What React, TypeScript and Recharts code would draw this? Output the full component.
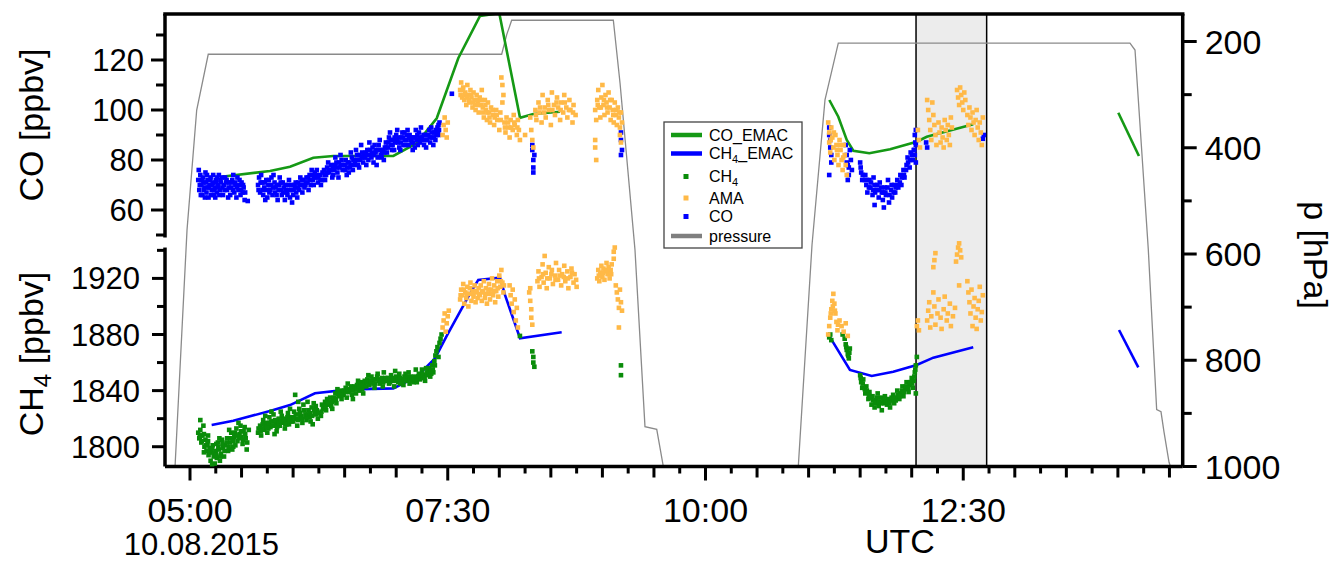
import React from 'react';
import { ComposedChart, Line, Scatter, XAxis, YAxis, ReferenceLine, ReferenceArea } from 'recharts';

const W = 1335;
const H = 563;
const FONT = "'Liberation Sans', Arial, Helvetica, sans-serif";

const X_DOMAIN: [number, number] = [4.7575, 14.6285];
const CO_DOMAIN: [number, number] = [-42.6, 138.4];
const CH4_DOMAIN: [number, number] = [1785.9, 2108.5];
const P_DOMAIN: [number, number] = [148.2, 1000];

const xTicks = Array.from({ length: 39 }, (_, i) => 5 + i * 0.25);
const coTicks = [50, 60, 70, 80, 90, 100, 110, 120, 130];
const coLabels = [60, 80, 100, 120];
const ch4Ticks = [1800, 1820, 1840, 1860, 1880, 1900, 1920, 1940];
const ch4Labels = [1800, 1840, 1880, 1920];
const pTicks = [200, 300, 400, 500, 600, 700, 800, 900, 1000];
const pLabels = [200, 400, 600, 800, 1000];

const shadeStart = 12.042;
const shadeEnd = 12.727;

const pressure: [number, number][] = [
  [4.855, 1000], [4.971, 555], [5.065, 329], [5.177, 224], [8.023, 224], [8.072, 187], [8.12, 160],
  [9.106, 160], [9.171, 278], [9.316, 592], [9.413, 925], [9.527, 930], [9.591, 1000], [10.9, 1000],
  [11.033, 583], [11.159, 310], [11.288, 203], [14.117, 203], [14.166, 216], [14.295, 592],
  [14.376, 893], [14.418, 897], [14.447, 935], [14.496, 992], [14.51, 1000],
];

const coEmac1: [number, number][] = [
  [5.307, 73.3], [5.776, 75.6], [5.97, 77.3], [6.196, 80.9], [6.39, 81.6], [6.972, 81.6], [7.199, 86.7],
  [7.393, 96.7], [7.602, 120.7], [7.813, 137.6], [8.0, 138.7], [8.201, 96.9], [8.33, 98.4], [8.589, 99.3],
];
const coEmac2: [number, number][] = [
  [11.201, 104], [11.288, 97.3], [11.37, 88], [11.434, 83.7], [11.589, 82.7], [11.79, 84.3], [12.048, 87.3],
  [12.146, 89.3], [12.597, 94.3],
];
const coEmac3: [number, number][] = [[14.004, 98.9], [14.204, 81.6]];

const ch4Emac1: [number, number][] = [
  [5.21, 1815.5], [5.42, 1818.5], [5.776, 1825.5], [5.97, 1829.7], [6.212, 1838.1], [6.552, 1840.9],
  [6.972, 1841.6], [7.199, 1849.9], [7.376, 1863], [7.49, 1879], [7.699, 1907], [7.796, 1918.9],
  [8.007, 1920.5], [8.055, 1908.2], [8.201, 1877.3], [8.605, 1881.6],
];
const ch4Emac2: [number, number][] = [
  [11.201, 1878.9], [11.401, 1854.7], [11.612, 1850.4], [11.821, 1853.5], [12.048, 1858.3], [12.21, 1863.5],
  [12.597, 1870.9],
];
const ch4Emac3: [number, number][] = [[14.011, 1883.2], [14.198, 1856.6]];

const coObs: [number, number][] = [
  [5.08, 72], [5.09, 68], [5.1, 74], [5.11, 70], [5.12, 66], [5.13, 71], [5.14, 69], [5.15, 75], [5.16, 67], [5.17, 72],
  [5.18, 65], [5.19, 70], [5.2, 73], [5.21, 68], [5.22, 71], [5.23, 66], [5.24, 69], [5.25, 72], [5.26, 67], [5.27, 70],
  [5.28, 74], [5.29, 68], [5.3, 71], [5.32, 66], [5.33, 70], [5.34, 73], [5.36, 68], [5.37, 65], [5.38, 71], [5.4, 69],
  [5.41, 72], [5.43, 67], [5.44, 70], [5.46, 73], [5.47, 68], [5.49, 66], [5.5, 71], [5.52, 69], [5.53, 64], [5.56, 63.6],
  [5.66, 70], [5.67, 73], [5.68, 67], [5.7, 71], [5.71, 66], [5.72, 69], [5.74, 72], [5.75, 65], [5.76, 70], [5.78, 68],
  [5.79, 73], [5.8, 66], [5.82, 71], [5.83, 69], [5.85, 64], [5.86, 68], [5.88, 71], [5.89, 66], [5.91, 69], [5.92, 64],
  [5.94, 67], [5.95, 70], [5.97, 65], [5.98, 68], [6.0, 66], [6.01, 70], [6.03, 67], [6.05, 71], [6.06, 68], [6.08, 70],
  [6.1, 72], [6.11, 69], [6.13, 73], [6.14, 71], [6.16, 74], [6.17, 70], [6.19, 72], [6.21, 75], [6.22, 73], [6.24, 71],
  [6.26, 74], [6.28, 72], [6.3, 76], [6.32, 74], [6.33, 77], [6.35, 75], [6.37, 78], [6.38, 73], [6.4, 76], [6.42, 79],
  [6.43, 75], [6.45, 77], [6.47, 80], [6.48, 76], [6.5, 78], [6.52, 74], [6.53, 79], [6.55, 77], [6.57, 81], [6.58, 76],
  [6.6, 79], [6.62, 82], [6.63, 78], [6.65, 80], [6.67, 83], [6.68, 79], [6.7, 81], [6.72, 84], [6.73, 80], [6.75, 82],
  [6.77, 85], [6.78, 79], [6.8, 83], [6.82, 81], [6.83, 86], [6.85, 82], [6.87, 84], [6.88, 80], [6.9, 87], [6.92, 85],
  [6.93, 89], [6.95, 86], [6.97, 88], [6.98, 84], [7.0, 90], [7.02, 87], [7.03, 85], [7.05, 89], [7.07, 86], [7.08, 91],
  [7.1, 88], [7.12, 86], [7.13, 90], [7.15, 87], [7.17, 89], [7.18, 85], [7.2, 88], [7.22, 91], [7.23, 87], [7.25, 89],
  [7.27, 86], [7.28, 90], [7.3, 88], [7.32, 92], [7.33, 87], [7.35, 89], [7.37, 91], [7.38, 88], [7.4, 93], [7.41, 90],
  [7.42, 95],
  [5.085, 76], [5.105, 66], [5.125, 73], [5.145, 65], [5.165, 74], [5.185, 69], [5.205, 66], [5.225, 74], [5.245, 65],
  [5.265, 73], [5.285, 66], [5.31, 73], [5.35, 71], [5.39, 66], [5.42, 74], [5.45, 65], [5.48, 72], [5.51, 67], [5.69, 74],
  [5.73, 64], [5.77, 67], [5.81, 74], [5.84, 66], [5.87, 73], [5.9, 71], [5.93, 68], [5.96, 72], [5.99, 63], [6.02, 69],
  [6.04, 65], [6.07, 73], [6.09, 67], [6.12, 70], [6.15, 68], [6.18, 76], [6.2, 70], [6.23, 76], [6.27, 70], [6.31, 72],
  [6.34, 79], [6.39, 74], [6.41, 81], [6.44, 73], [6.46, 82], [6.51, 80], [6.54, 75], [6.56, 83], [6.59, 78], [6.61, 84],
  [6.64, 77], [6.66, 86], [6.69, 82], [6.71, 78], [6.74, 87], [6.76, 81], [6.79, 86], [6.81, 78], [6.84, 88], [6.86, 81],
  [6.89, 85], [6.91, 83], [6.94, 91], [6.96, 84], [6.99, 87], [7.01, 92], [7.04, 84], [7.06, 91], [7.09, 86], [7.11, 92],
  [7.14, 88], [7.16, 84], [7.19, 92], [7.21, 86], [7.24, 93], [7.26, 88], [7.29, 85], [7.31, 90], [7.34, 93], [7.36, 86],
  [7.39, 90], [7.41, 94],
  [5.095, 70], [5.115, 72], [5.135, 68], [5.155, 71], [5.175, 69], [5.195, 72], [5.215, 70], [5.235, 68], [5.255, 71],
  [5.275, 69], [5.295, 72], [5.315, 69], [5.335, 68], [5.355, 72], [5.375, 69], [5.395, 71], [5.415, 68], [5.435, 71],
  [5.455, 69], [5.475, 70], [5.495, 68], [5.515, 70], [5.535, 67],
  [5.665, 68], [5.685, 71], [5.705, 68], [5.725, 71], [5.745, 68], [5.765, 72], [5.785, 70], [5.805, 69], [5.825, 67],
  [5.845, 70], [5.865, 70], [5.885, 68], [5.905, 67], [5.925, 70], [5.945, 66], [5.965, 68], [5.985, 70], [6.005, 68],
  [6.025, 71], [6.045, 69], [6.065, 70], [6.085, 72], [6.105, 70], [6.125, 71], [6.145, 73], [6.165, 72], [6.185, 74],
  [6.205, 73], [6.225, 74], [6.245, 73], [6.265, 72], [6.285, 75], [6.305, 74], [6.325, 75], [6.345, 76], [6.365, 76],
  [6.385, 77], [6.405, 78], [6.425, 77], [6.445, 79], [6.465, 78], [6.485, 78], [6.505, 76], [6.525, 77], [6.545, 79],
  [6.565, 78], [6.585, 80], [6.605, 80], [6.625, 80], [6.645, 82], [6.665, 81], [6.685, 81], [6.705, 83], [6.725, 82],
  [6.745, 84], [6.765, 83], [6.785, 82], [6.805, 84], [6.825, 84], [6.845, 84], [6.865, 83], [6.885, 83], [6.905, 85],
  [6.925, 87], [6.945, 88], [6.965, 86], [6.985, 89], [7.005, 88], [7.025, 89], [7.045, 87], [7.065, 89], [7.085, 88],
  [7.105, 90], [7.125, 89], [7.145, 89], [7.165, 87], [7.185, 89], [7.205, 90], [7.225, 89], [7.245, 88], [7.265, 90],
  [7.285, 88], [7.305, 90], [7.325, 89], [7.345, 91], [7.365, 89], [7.385, 92], [7.405, 91], [7.415, 92],
  [7.54, 106.5],
  [8.32, 84], [8.33, 80], [8.33, 77], [8.34, 82], [8.33, 75], [8.32, 86],
  [9.18, 91], [9.18, 88], [9.19, 84], [9.18, 82],
  [11.2, 90], [11.21, 85], [11.22, 79], [11.2, 74], [11.2, 93], [11.36, 86], [11.37, 82], [11.38, 78], [11.39, 74],
  [11.4, 84], [11.41, 80], [11.42, 76], [11.38, 72], [11.21, 88], [11.22, 82], [11.37, 79], [11.39, 77],
  [11.5, 79], [11.51, 75], [11.52, 72], [11.55, 74], [11.56, 70], [11.57, 67], [11.59, 72], [11.6, 69], [11.62, 66],
  [11.63, 73], [11.64, 70], [11.64, 62], [11.66, 68], [11.68, 65], [11.69, 71], [11.71, 67], [11.72, 64], [11.73, 61],
  [11.74, 69], [11.75, 66], [11.77, 72], [11.78, 63], [11.8, 68], [11.81, 65], [11.83, 70], [11.84, 67], [11.86, 72],
  [11.87, 69], [11.89, 74], [11.9, 70], [11.92, 76], [11.93, 73], [11.95, 78], [11.96, 81], [11.98, 77], [11.99, 83],
  [12.01, 80], [12.02, 84], [12.03, 82], [12.04, 79], [12.04, 86], [12.03, 90], [12.04, 92],
  [11.505, 77], [11.525, 74], [11.545, 72], [11.565, 72], [11.585, 69], [11.605, 71], [11.625, 68], [11.645, 67],
  [11.665, 70], [11.685, 68], [11.705, 69], [11.725, 67], [11.745, 67], [11.765, 69], [11.785, 66], [11.805, 70],
  [11.825, 67], [11.845, 69], [11.865, 70], [11.885, 71], [11.905, 73], [11.925, 74], [11.945, 76], [11.965, 79],
  [11.985, 80], [12.005, 82], [12.025, 84], [12.035, 87],
  [12.14, 87], [12.15, 85], [12.69, 88.5], [12.7, 90],
];

const ch4Obs: [number, number][] = [
  [5.08, 1810], [5.09, 1806], [5.1, 1812], [5.1, 1819], [5.11, 1803], [5.12, 1808], [5.13, 1815], [5.14, 1800],
  [5.15, 1805], [5.16, 1797], [5.17, 1802], [5.18, 1794], [5.19, 1799], [5.2, 1790], [5.21, 1796], [5.22, 1801],
  [5.23, 1793], [5.24, 1788], [5.25, 1797], [5.26, 1792], [5.27, 1803], [5.28, 1798], [5.29, 1790], [5.3, 1795],
  [5.31, 1805], [5.32, 1799], [5.33, 1793], [5.34, 1801], [5.36, 1806], [5.37, 1797], [5.39, 1803], [5.4, 1810],
  [5.42, 1800], [5.43, 1807], [5.45, 1813], [5.46, 1804], [5.48, 1809], [5.49, 1815], [5.51, 1802], [5.52, 1811],
  [5.54, 1806], [5.55, 1798], [5.57, 1812], [5.66, 1810], [5.68, 1815], [5.69, 1808], [5.71, 1819], [5.72, 1812],
  [5.74, 1817], [5.75, 1810], [5.77, 1821], [5.78, 1814], [5.8, 1818], [5.81, 1823], [5.83, 1816], [5.84, 1811],
  [5.86, 1820], [5.87, 1815], [5.89, 1822], [5.9, 1817], [5.92, 1813], [5.93, 1819], [5.95, 1824], [5.96, 1816],
  [5.98, 1821], [6.0, 1818], [6.01, 1825], [6.02, 1837], [6.03, 1820], [6.04, 1815], [6.06, 1827], [6.07, 1822],
  [6.09, 1817], [6.1, 1830], [6.12, 1823], [6.13, 1819], [6.15, 1826], [6.16, 1821], [6.18, 1828], [6.19, 1816],
  [6.21, 1824], [6.22, 1829], [6.24, 1820], [6.27, 1822], [6.29, 1827], [6.31, 1832], [6.32, 1826], [6.34, 1830],
  [6.36, 1835], [6.37, 1829], [6.39, 1833], [6.41, 1838], [6.42, 1831], [6.44, 1836], [6.46, 1840], [6.47, 1834],
  [6.49, 1837], [6.51, 1842], [6.52, 1835], [6.54, 1839], [6.56, 1843], [6.57, 1837], [6.59, 1841], [6.61, 1838],
  [6.62, 1844], [6.64, 1840], [6.66, 1846], [6.67, 1841], [6.69, 1845], [6.71, 1843], [6.72, 1848], [6.74, 1844],
  [6.76, 1850], [6.77, 1846], [6.79, 1842], [6.81, 1848], [6.82, 1852], [6.84, 1845], [6.86, 1849], [6.87, 1843],
  [6.89, 1847], [6.92, 1849], [6.93, 1845], [6.95, 1851], [6.97, 1847], [6.98, 1843], [7.0, 1850], [7.02, 1846],
  [7.03, 1852], [7.05, 1848], [7.07, 1844], [7.08, 1850], [7.1, 1847], [7.12, 1853], [7.13, 1845], [7.15, 1849],
  [7.17, 1846], [7.18, 1850], [7.2, 1846], [7.22, 1852], [7.23, 1848], [7.25, 1855], [7.27, 1851], [7.28, 1847],
  [7.3, 1853], [7.32, 1856], [7.33, 1850], [7.35, 1858], [7.36, 1853], [7.37, 1861], [7.38, 1865], [7.39, 1868],
  [7.4, 1871], [7.41, 1864], [7.42, 1874], [7.43, 1877], [7.44, 1880],
  [5.105, 1808], [5.135, 1796], [5.175, 1808], [5.215, 1787], [5.255, 1802], [5.285, 1806], [5.38, 1812], [5.41, 1798],
  [5.44, 1801], [5.47, 1817], [5.5, 1807], [5.53, 1814], [5.7, 1813], [5.73, 1822], [5.76, 1813], [5.79, 1825],
  [5.82, 1809], [5.85, 1818], [5.88, 1825], [5.91, 1820], [5.94, 1816], [5.97, 1827], [6.05, 1832], [6.08, 1822],
  [6.11, 1826], [6.14, 1832], [6.17, 1818], [6.2, 1831], [6.23, 1826], [6.28, 1830], [6.33, 1834], [6.38, 1827],
  [6.43, 1841], [6.48, 1839], [6.53, 1845], [6.58, 1834], [6.63, 1847], [6.68, 1838], [6.73, 1851], [6.78, 1845],
  [6.83, 1848], [6.88, 1853], [6.94, 1846], [6.99, 1854], [7.04, 1845], [7.09, 1852], [7.14, 1850], [7.19, 1855],
  [7.24, 1849], [7.29, 1856], [7.34, 1852],
  [5.095, 1807], [5.115, 1804], [5.135, 1809], [5.155, 1801], [5.175, 1804], [5.195, 1796], [5.215, 1799], [5.235, 1795],
  [5.255, 1794], [5.275, 1800], [5.295, 1793], [5.315, 1802], [5.335, 1797], [5.355, 1803], [5.375, 1800], [5.395, 1806],
  [5.415, 1804], [5.435, 1810], [5.455, 1808], [5.475, 1806], [5.495, 1811], [5.515, 1805], [5.535, 1809], [5.555, 1803],
  [5.665, 1813], [5.685, 1811], [5.705, 1816], [5.725, 1815], [5.745, 1814], [5.765, 1817], [5.785, 1818], [5.805, 1815],
  [5.825, 1819], [5.845, 1814], [5.865, 1817], [5.885, 1818], [5.905, 1819], [5.925, 1816], [5.945, 1821], [5.965, 1819],
  [5.985, 1818], [6.005, 1821], [6.025, 1823], [6.045, 1819], [6.065, 1824], [6.085, 1820], [6.105, 1826], [6.125, 1821],
  [6.145, 1823], [6.165, 1824], [6.185, 1822], [6.205, 1826], [6.225, 1823], [6.245, 1824], [6.275, 1825], [6.295, 1829],
  [6.315, 1829], [6.335, 1832], [6.355, 1831], [6.375, 1832], [6.395, 1835], [6.415, 1834], [6.435, 1838], [6.455, 1837],
  [6.475, 1837], [6.495, 1840], [6.515, 1839], [6.535, 1840], [6.555, 1841], [6.575, 1840], [6.595, 1843], [6.615, 1841],
  [6.635, 1843], [6.655, 1843], [6.675, 1844], [6.695, 1847], [6.715, 1846], [6.735, 1846], [6.755, 1847], [6.775, 1848],
  [6.795, 1845], [6.815, 1850], [6.835, 1847], [6.855, 1847], [6.875, 1846], [6.895, 1849], [6.915, 1847], [6.935, 1848],
  [6.955, 1848], [6.975, 1849], [6.995, 1847], [7.015, 1848], [7.035, 1849], [7.055, 1846], [7.075, 1848], [7.095, 1849],
  [7.115, 1850], [7.135, 1848], [7.155, 1847], [7.175, 1848], [7.195, 1848], [7.215, 1850], [7.235, 1851], [7.255, 1852],
  [7.275, 1849], [7.295, 1851], [7.315, 1853], [7.335, 1854], [7.355, 1855], [7.375, 1858],
  [8.2, 1879], [8.32, 1868], [8.33, 1864], [8.33, 1860], [8.34, 1857], [9.18, 1858], [9.18, 1851],
  [11.2, 1878], [11.21, 1880], [11.22, 1876], [11.33, 1880], [11.35, 1877], [11.36, 1873], [11.37, 1869], [11.38, 1866],
  [11.39, 1863], [11.4, 1870], [11.365, 1871], [11.385, 1865], [11.395, 1867],
  [11.5, 1851], [11.51, 1846], [11.52, 1842], [11.53, 1848], [11.55, 1838], [11.56, 1843], [11.58, 1834], [11.59, 1839],
  [11.61, 1830], [11.62, 1836], [11.64, 1828], [11.65, 1833], [11.67, 1838], [11.68, 1829], [11.7, 1835], [11.71, 1826],
  [11.73, 1831], [11.74, 1836], [11.76, 1830], [11.77, 1834], [11.79, 1828], [11.8, 1833], [11.82, 1837], [11.83, 1831],
  [11.85, 1835], [11.86, 1840], [11.88, 1834], [11.89, 1838], [11.91, 1843], [11.92, 1836], [11.94, 1841], [11.95, 1846],
  [11.97, 1839], [11.98, 1844], [12.0, 1849], [12.01, 1842], [12.02, 1847], [12.03, 1853], [12.04, 1858], [12.05, 1864],
  [12.04, 1838],
  [11.505, 1849], [11.525, 1845], [11.545, 1841], [11.565, 1840], [11.585, 1837], [11.605, 1835], [11.625, 1833],
  [11.645, 1831], [11.665, 1835], [11.685, 1832], [11.705, 1831], [11.725, 1833], [11.745, 1833], [11.765, 1832],
  [11.785, 1831], [11.805, 1835], [11.825, 1834], [11.845, 1833], [11.865, 1837], [11.885, 1836], [11.905, 1840],
  [11.925, 1839], [11.945, 1843], [11.965, 1842], [11.985, 1846], [12.005, 1845], [12.025, 1850], [12.035, 1855],
];

const amaCO: [number, number][] = [
  [7.45, 90], [7.46, 94], [7.47, 97], [7.48, 92], [7.49, 89], [7.5, 95],
  [7.62, 108], [7.63, 111], [7.64, 105], [7.65, 109], [7.66, 104], [7.67, 107], [7.68, 102], [7.69, 110], [7.7, 106],
  [7.71, 103], [7.72, 108], [7.73, 105], [7.74, 101], [7.75, 107], [7.76, 104], [7.77, 100], [7.78, 106], [7.79, 103],
  [7.8, 99], [7.81, 105], [7.82, 102], [7.83, 108], [7.84, 101], [7.85, 97], [7.86, 104], [7.87, 100], [7.88, 96],
  [7.89, 103], [7.9, 99], [7.91, 95], [7.92, 101], [8.02, 113], [8.03, 110], [8.04, 106], [8.03, 103],
  [7.94, 98], [7.95, 94], [7.97, 100], [7.98, 96], [8.0, 92], [8.01, 99], [8.05, 95], [8.06, 91], [8.07, 97], [8.09, 93],
  [8.1, 89], [8.11, 96], [8.13, 92], [8.14, 98], [8.15, 94], [8.17, 90], [8.18, 96], [8.19, 92], [8.2, 88], [8.25, 90],
  [8.3, 97], [8.31, 92], [8.32, 88], [8.33, 85], [8.35, 100], [8.36, 96], [8.38, 103], [8.39, 99], [8.41, 95], [8.42, 106],
  [8.44, 101], [8.45, 97], [8.47, 104], [8.48, 100], [8.5, 94], [8.51, 107], [8.53, 102], [8.54, 98], [8.56, 105],
  [8.57, 101], [8.59, 96], [8.6, 103], [8.62, 99], [8.63, 106], [8.65, 101], [8.66, 97], [8.68, 104], [8.69, 100],
  [8.71, 95], [8.72, 102], [8.74, 98],
  [8.93, 100], [8.94, 96], [8.95, 104], [8.96, 108], [8.97, 101], [8.98, 97], [8.99, 105], [9.0, 110], [9.01, 102],
  [9.02, 98], [9.03, 106], [9.04, 103], [9.05, 99], [9.06, 107], [9.07, 101], [9.08, 96], [9.09, 104], [9.1, 100],
  [9.11, 95], [9.12, 103], [9.13, 98], [9.14, 94], [9.15, 101], [9.16, 97], [9.17, 93], [9.18, 99], [9.19, 95],
  [8.93, 88], [8.93, 85], [8.94, 80], [9.17, 90], [9.18, 87],
  [7.625, 106], [7.645, 108], [7.665, 106], [7.685, 105], [7.705, 104], [7.725, 106], [7.745, 103], [7.765, 102],
  [7.785, 104], [7.805, 102], [7.825, 104], [7.845, 99], [7.865, 102], [7.885, 99], [7.905, 97], [7.935, 100],
  [7.955, 97], [7.975, 98], [8.015, 96], [8.055, 93], [8.085, 95], [8.115, 93], [8.145, 95], [8.175, 93], [8.355, 98],
  [8.395, 101], [8.435, 99], [8.475, 102], [8.515, 100], [8.555, 103], [8.595, 100], [8.635, 103], [8.675, 100],
  [8.715, 99], [8.955, 102], [8.985, 101], [9.015, 104], [9.045, 101], [9.075, 104], [9.105, 98], [9.135, 100], [9.165, 99],
  [11.19, 95], [11.2, 91], [11.2, 87], [11.21, 83], [11.22, 93], [11.23, 89], [11.24, 85], [11.25, 80], [11.26, 90],
  [11.27, 86], [11.28, 82], [11.29, 78], [11.3, 88], [11.31, 84], [11.32, 80], [11.33, 76], [11.34, 86], [11.35, 82],
  [11.36, 78], [11.37, 74], [11.215, 88], [11.245, 91], [11.275, 84], [11.305, 86], [11.335, 81],
  [12.06, 92], [12.07, 88], [12.08, 85],
  [12.15, 104], [12.16, 100], [12.17, 96], [12.18, 92], [12.19, 88], [12.2, 103], [12.21, 98], [12.22, 94], [12.23, 90],
  [12.24, 86], [12.26, 95], [12.27, 91], [12.28, 87], [12.29, 93], [12.3, 89], [12.31, 85], [12.32, 96], [12.33, 92],
  [12.34, 88], [12.35, 94], [12.36, 90], [12.37, 86], [12.38, 97], [12.39, 93],
  [12.44, 108], [12.45, 105], [12.46, 102], [12.47, 109], [12.48, 106], [12.49, 103], [12.5, 100], [12.51, 107], [12.52, 104],
  [12.54, 98], [12.55, 94], [12.56, 101], [12.57, 97], [12.58, 92], [12.59, 99], [12.6, 95], [12.61, 90], [12.62, 96],
  [12.63, 100], [12.64, 93], [12.65, 88], [12.66, 95], [12.67, 91], [12.68, 86], [12.69, 97],
];

const amaCH4: [number, number][] = [
  [7.45, 1885], [7.46, 1890], [7.47, 1895], [7.48, 1882], [7.49, 1888], [7.5, 1893], [7.51, 1897],
  [7.62, 1905], [7.63, 1912], [7.64, 1908], [7.65, 1916], [7.66, 1902], [7.67, 1910], [7.68, 1906], [7.69, 1914],
  [7.7, 1900], [7.71, 1909], [7.72, 1917], [7.73, 1904], [7.74, 1911], [7.75, 1907], [7.76, 1915], [7.77, 1903],
  [7.78, 1910], [7.79, 1906], [7.8, 1913],
  [7.81, 1908], [7.82, 1915], [7.83, 1904], [7.84, 1911], [7.85, 1918], [7.86, 1906], [7.87, 1913], [7.88, 1902],
  [7.89, 1909], [7.9, 1916], [7.91, 1905], [7.92, 1912], [7.93, 1920], [7.94, 1908], [7.95, 1915], [7.96, 1903],
  [7.97, 1911], [7.98, 1918], [7.99, 1907], [8.0, 1922], [8.01, 1914], [8.02, 1926], [8.03, 1917], [8.04, 1910],
  [8.1, 1915], [8.11, 1908], [8.12, 1902], [8.13, 1912], [8.14, 1896], [8.15, 1905], [8.16, 1890], [8.17, 1899], [8.18, 1885],
  [8.29, 1910], [8.3, 1904], [8.31, 1898], [8.31, 1892], [8.32, 1887], [8.3, 1913],
  [8.37, 1918], [8.38, 1925], [8.39, 1914], [8.41, 1921], [8.42, 1930], [8.43, 1917], [8.45, 1924], [8.46, 1913],
  [8.48, 1928], [8.49, 1920], [8.51, 1926], [8.52, 1916], [8.54, 1922], [8.55, 1931], [8.57, 1919], [8.58, 1926],
  [8.6, 1915], [8.61, 1923], [8.63, 1929], [8.64, 1918], [8.66, 1925], [8.67, 1913], [8.69, 1921], [8.7, 1927],
  [8.72, 1917], [8.73, 1923], [8.75, 1914], [8.44, 1936],
  [8.95, 1920], [8.96, 1926], [8.97, 1918], [8.98, 1924], [8.99, 1929], [9.0, 1921], [9.01, 1927], [9.02, 1919],
  [9.03, 1925], [9.04, 1931], [9.05, 1923], [9.06, 1928], [9.07, 1920], [9.08, 1926], [9.09, 1930],
  [9.11, 1934], [9.11, 1939], [9.12, 1942],
  [9.13, 1915], [9.14, 1910], [9.15, 1905], [9.16, 1899], [9.17, 1912], [9.18, 1903], [9.19, 1897], [9.16, 1885],
  [7.625, 1908], [7.655, 1912], [7.685, 1909], [7.715, 1913], [7.745, 1909], [7.775, 1911], [7.805, 1909], [7.835, 1910],
  [7.865, 1909], [7.895, 1912], [7.925, 1909], [7.955, 1911], [7.985, 1913], [8.015, 1918], [8.045, 1915], [8.385, 1920],
  [8.425, 1923], [8.465, 1920], [8.505, 1923], [8.545, 1919], [8.585, 1922], [8.625, 1921], [8.665, 1920], [8.705, 1924],
  [8.745, 1919], [8.965, 1922], [9.005, 1924], [9.045, 1926], [9.085, 1923],
  [11.19, 1880], [11.2, 1886], [11.21, 1892], [11.22, 1898], [11.23, 1904], [11.24, 1909], [11.25, 1902], [11.26, 1895],
  [11.27, 1889], [11.28, 1883], [11.3, 1890], [11.32, 1886], [11.34, 1882], [11.36, 1888], [11.38, 1879],
  [11.215, 1895], [11.235, 1900], [11.255, 1897], [11.285, 1887],
  [12.05, 1886], [12.06, 1890], [12.07, 1883],
  [12.15, 1890], [12.16, 1897], [12.17, 1903], [12.18, 1885], [12.19, 1893], [12.21, 1910], [12.22, 1900], [12.23, 1887],
  [12.25, 1895], [12.26, 1905], [12.28, 1892], [12.29, 1884], [12.31, 1898], [12.32, 1907], [12.34, 1890], [12.35, 1895],
  [12.37, 1902], [12.38, 1886], [12.4, 1893], [12.42, 1899],
  [12.21, 1928], [12.22, 1933], [12.23, 1938],
  [12.43, 1932], [12.44, 1937], [12.45, 1942], [12.46, 1945], [12.47, 1940], [12.48, 1935], [12.46, 1915],
  [12.54, 1918], [12.55, 1910], [12.56, 1903], [12.57, 1895], [12.58, 1912], [12.59, 1886], [12.6, 1900], [12.61, 1906],
  [12.62, 1892], [12.63, 1884], [12.64, 1898], [12.65, 1904], [12.66, 1914], [12.67, 1890], [12.68, 1896], [12.69, 1908],
];

const C_GREEN_LINE = '#159915';
const C_GREEN_PT = '#0a8c0a';
const C_BLUE = '#0000ff';
const C_ORANGE = '#ffb947';
const C_GREY = '#8a8a8a';

const PT = 4.6;

const toPts = (arr: [number, number][]) => arr.map(([t, v]) => ({ t, v }));

const fmtTime = (v: number) => {
  const h = Math.floor(v + 1e-9);
  const m = Math.round((v - h) * 60);
  return `${String(h).padStart(2, '0')}:${String(m).padStart(2, '0')}`;
};

const square = (color: string) => (props: any) => {
  const { cx, cy } = props;
  if (cx == null || cy == null) return <g />;
  return <rect x={cx - PT / 2} y={cy - PT / 2} width={PT} height={PT} fill={color} />;
};

const XTick = (props: any) => {
  const { x, y, payload } = props;
  const v = payload.value as number;
  const k = (v - 5) / 2.5;
  const major = Math.abs(k - Math.round(k)) < 1e-6;
  const half = Math.round(v * 4) % 2 === 0;
  const len = major ? 14 : half ? 11 : 7;
  return (
    <g>
      <line x1={x} x2={x} y1={y} y2={y + len} stroke="#000" strokeWidth={3} />
      {major && (
        <text x={x} y={y + 55} textAnchor="middle" fontSize={34} fontFamily={FONT} fill="#000">
          {fmtTime(v)}
        </text>
      )}
    </g>
  );
};

const makeLeftTick = (labels: number[], gap: number) => (props: any) => {
  const { x, y, payload } = props;
  const v = payload.value as number;
  const major = labels.includes(v);
  const len = major ? 13 : 8;
  return (
    <g>
      <line x1={x - len} x2={x} y1={y} y2={y} stroke="#000" strokeWidth={3} />
      {major && (
        <text x={x - gap} y={y + 11} textAnchor="end" fontSize={31} fontFamily={FONT} fill="#000">
          {v}
        </text>
      )}
    </g>
  );
};

const RightTick = (props: any) => {
  const { x, y, payload } = props;
  const v = payload.value as number;
  const major = pLabels.includes(v);
  const len = major ? 14 : 9;
  return (
    <g>
      <line x1={x} x2={x + len} y1={y} y2={y} stroke="#000" strokeWidth={3} />
      {major && (
        <text x={x + 22} y={y + 12} textAnchor="start" fontSize={34} fontFamily={FONT} fill="#000">
          {v}
        </text>
      )}
    </g>
  );
};

const COTick = makeLeftTick(coLabels, 20);
const CH4Tick = makeLeftTick(ch4Labels, 25);

const legendItems = [
  { kind: 'line', color: C_GREEN_LINE, label: ['CO_EMAC'], y: 135 },
  { kind: 'line', color: C_BLUE, label: ['CH', '4', '_EMAC'], y: 153.5 },
  { kind: 'sq', color: C_GREEN_PT, label: ['CH', '4'], y: 176.5 },
  { kind: 'sq', color: C_ORANGE, label: ['AMA'], y: 198 },
  { kind: 'sq', color: C_BLUE, label: ['CO'], y: 216.5 },
  { kind: 'line', color: '#7f7f7f', label: ['pressure'], y: 236 },
];

const Overlay = () => (
  <svg width={W} height={H} style={{ position: 'absolute', left: 0, top: 0, pointerEvents: 'none' }}>
    <g fontFamily={FONT} fill="#000">
      <text x={43} y={125} transform="rotate(-90 43 125)" textAnchor="middle" fontSize={34}>CO [ppbv]</text>
      <text x={43} y={354} transform="rotate(-90 43 354)" textAnchor="middle" fontSize={34}>
        CH<tspan fontSize={24} dy={8}>4</tspan><tspan dy={-8}> [ppbv]</tspan>
      </text>
      <text x={1304} y={255} transform="rotate(90 1304 255)" textAnchor="middle" fontSize={34}>p [hPa]</text>
      <text x={279} y={555} textAnchor="end" fontSize={31}>10.08.2015</text>
      <text x={900} y={553} textAnchor="middle" fontSize={34}>UTC</text>
    </g>
    <g>
      <rect x={664} y={122} width={138} height={126} fill="#fff" stroke="#444" strokeWidth={1.3} />
      {legendItems.map((it, i) => (
        <g key={i}>
          {it.kind === 'line' ? (
            <line x1={671} x2={702} y1={it.y} y2={it.y} stroke={it.color} strokeWidth={4.5} />
          ) : (
            <rect x={683.5} y={it.y - 2.5} width={5} height={5} fill={it.color} />
          )}
          <text x={709} y={it.y + 5.5} fontSize={16} fontFamily={FONT} fill="#000">
            {it.label[0]}
            {it.label.length > 1 && <tspan fontSize={11} dy={4}>{it.label[1]}</tspan>}
            {it.label.length > 2 && <tspan dy={-4}>{it.label[2]}</tspan>}
          </text>
        </g>
      ))}
    </g>
  </svg>
);

export default function App() {
  const lineProps = { dot: false, activeDot: false, isAnimationActive: false, xAxisId: 0 } as any;
  return (
    <div style={{ position: 'absolute', left: 0, top: 0, width: W, height: H, background: '#fff' }}>
      <ComposedChart width={W} height={H} margin={{ top: 14, right: 151.3, bottom: 95.5, left: 163 }}>
        <XAxis
          xAxisId={0}
          dataKey="t"
          type="number"
          domain={X_DOMAIN}
          allowDataOverflow
          ticks={xTicks}
          interval={0}
          height={1}
          tickSize={0}
          tickMargin={0}
          tickLine={false}
          tick={XTick}
          axisLine={{ stroke: '#000', strokeWidth: 3.5 }}
        />
        <YAxis
          yAxisId="co"
          dataKey="v"
          type="number"
          domain={CO_DOMAIN}
          allowDataOverflow
          ticks={coTicks}
          interval={0}
          width={1}
          tickSize={0}
          tickMargin={0}
          tickLine={false}
          axisLine={false}
          tick={COTick}
        />
        <YAxis
          yAxisId="ch4"
          dataKey="v"
          type="number"
          domain={CH4_DOMAIN}
          allowDataOverflow
          ticks={ch4Ticks}
          interval={0}
          width={1}
          tickSize={0}
          tickMargin={0}
          tickLine={false}
          axisLine={false}
          tick={CH4Tick}
        />
        <YAxis
          yAxisId="p"
          orientation="right"
          dataKey="v"
          type="number"
          domain={P_DOMAIN}
          reversed
          allowDataOverflow
          ticks={pTicks}
          interval={0}
          width={1}
          tickSize={0}
          tickMargin={0}
          tickLine={false}
          axisLine={{ stroke: '#000', strokeWidth: 3.5 }}
          tick={RightTick}
        />

        <ReferenceArea xAxisId={0} yAxisId="p" x1={shadeStart} x2={shadeEnd} fill="#ececec" fillOpacity={1} stroke="none" ifOverflow="visible" />
        <ReferenceLine xAxisId={0} yAxisId="p" x={shadeStart} stroke="#000" strokeWidth={1.5} />
        <ReferenceLine xAxisId={0} yAxisId="p" x={shadeEnd} stroke="#000" strokeWidth={1.5} />

        <Line {...lineProps} yAxisId="p" data={toPts(pressure)} dataKey="v" stroke={C_GREY} strokeWidth={1.3} name="pressure" />

        <Scatter xAxisId={0} yAxisId="co" data={toPts(coObs)} fill={C_BLUE} shape={square(C_BLUE)} isAnimationActive={false} name="CO" />
        <Scatter xAxisId={0} yAxisId="co" data={toPts(amaCO)} fill={C_ORANGE} shape={square(C_ORANGE)} isAnimationActive={false} name="AMA" />
        <Scatter xAxisId={0} yAxisId="ch4" data={toPts(ch4Obs)} fill={C_GREEN_PT} shape={square(C_GREEN_PT)} isAnimationActive={false} name="CH4" />
        <Scatter xAxisId={0} yAxisId="ch4" data={toPts(amaCH4)} fill={C_ORANGE} shape={square(C_ORANGE)} isAnimationActive={false} name="AMA CH4" />

        <Line {...lineProps} yAxisId="co" data={toPts(coEmac1)} dataKey="v" stroke={C_GREEN_LINE} strokeWidth={2.6} />
        <Line {...lineProps} yAxisId="co" data={toPts(coEmac2)} dataKey="v" stroke={C_GREEN_LINE} strokeWidth={2.6} />
        <Line {...lineProps} yAxisId="co" data={toPts(coEmac3)} dataKey="v" stroke={C_GREEN_LINE} strokeWidth={2.6} />
        <Line {...lineProps} yAxisId="ch4" data={toPts(ch4Emac1)} dataKey="v" stroke={C_BLUE} strokeWidth={2.6} />
        <Line {...lineProps} yAxisId="ch4" data={toPts(ch4Emac2)} dataKey="v" stroke={C_BLUE} strokeWidth={2.6} />
        <Line {...lineProps} yAxisId="ch4" data={toPts(ch4Emac3)} dataKey="v" stroke={C_BLUE} strokeWidth={2.6} />

        <ReferenceLine xAxisId={0} yAxisId="co" y={CO_DOMAIN[1]} stroke="#000" strokeWidth={3.5} ifOverflow="visible" strokeLinecap="square" />
        <ReferenceLine
          xAxisId={0}
          yAxisId="co"
          segment={[{ x: X_DOMAIN[0], y: 49 }, { x: X_DOMAIN[0], y: CO_DOMAIN[1] }]}
          stroke="#000"
          strokeWidth={3.5}
          ifOverflow="visible"
        />
        <ReferenceLine
          xAxisId={0}
          yAxisId="ch4"
          segment={[{ x: X_DOMAIN[0], y: CH4_DOMAIN[0] }, { x: X_DOMAIN[0], y: 1942 }]}
          stroke="#000"
          strokeWidth={3.5}
          ifOverflow="visible"
        />
      </ComposedChart>
      <Overlay />
    </div>
  );
}
